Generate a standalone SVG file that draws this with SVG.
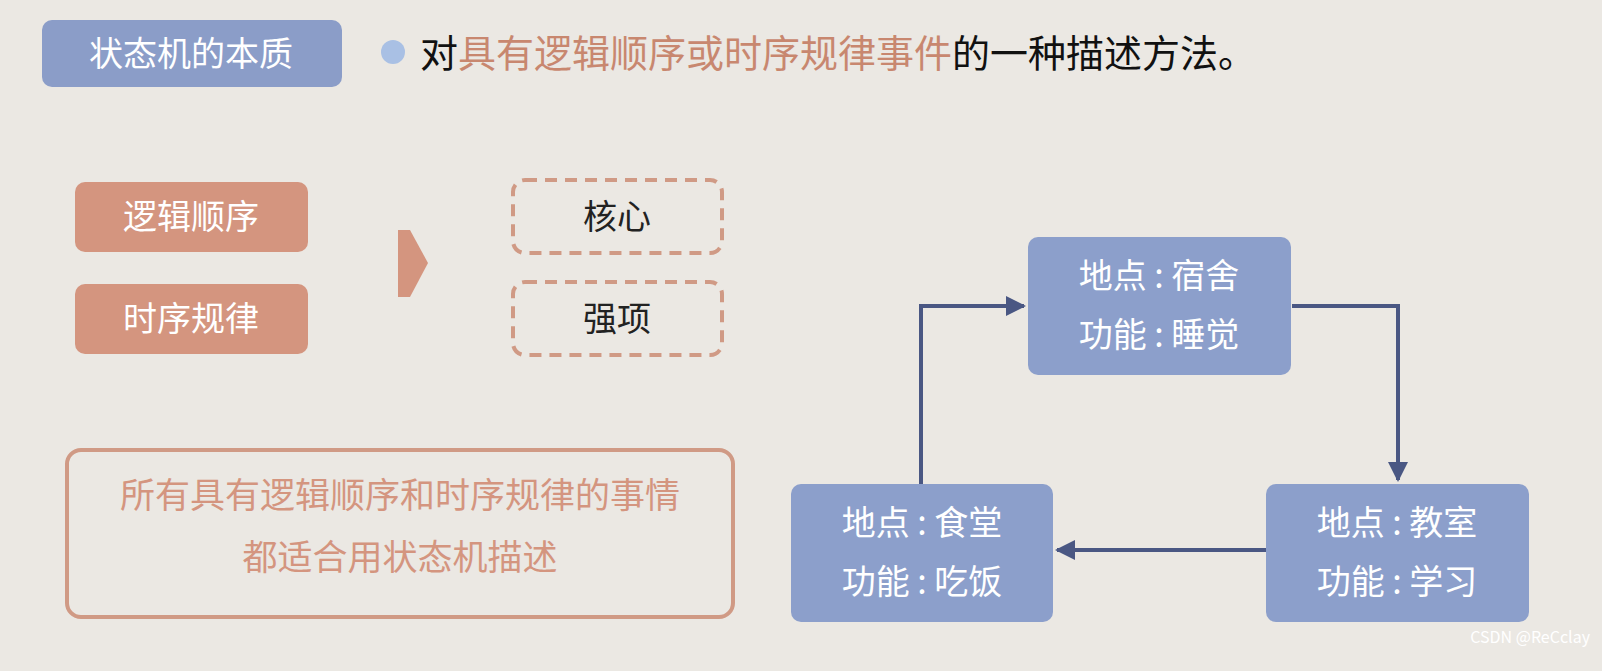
<svg xmlns="http://www.w3.org/2000/svg" width="1602" height="671" viewBox="0 0 1602 671">
<style>
text{font-family:"Noto Sans CJK SC","Noto Sans",sans-serif}
.w{fill:#fff;font-size:34px;text-anchor:middle}
.node{fill:#8c9fcb}
.tag{fill:#d4957f}
.dash{fill:none;stroke:#d09a85;stroke-width:4;stroke-dasharray:12 8}
.con{fill:none;stroke:#4a5783;stroke-width:4}
</style>
<defs><marker id="ah" viewBox="0 0 10 10" refX="9" refY="5" markerWidth="5" markerHeight="5" orient="auto"><path d="M0,0L10,5L0,10z" fill="#4a5783"/></marker></defs>
<rect width="1602" height="671" fill="#ebe8e3"/>
<g id="title"><rect x="42" y="20" width="300" height="67" rx="10" fill="#8b9dc8"/><text class="w" x="191" y="66">状态机的本质</text></g>
<g id="desc"><circle cx="393" cy="52" r="12" fill="#a9c0e4"/><text x="420" y="67" font-size="38" fill="#111">对<tspan fill="#c8876f">具有逻辑顺序或时序规律事件</tspan>的一种描述方法。</text></g>
<g id="logic"><rect class="tag" x="75" y="182" width="233" height="70" rx="10"/><text class="w" x="191" y="229">逻辑顺序</text></g>
<g id="timing"><rect class="tag" x="75" y="284" width="233" height="70" rx="10"/><text class="w" x="191" y="331">时序规律</text></g>
<g id="chev"><polygon class="tag" points="398,230 410,230 428,263 410,297 398,297"/></g>
<g id="core"><rect class="dash" x="513" y="180" width="209" height="73" rx="12"/><text x="617" y="229" font-size="34" text-anchor="middle" fill="#222">核心</text></g>
<g id="strong"><rect class="dash" x="513" y="282" width="209" height="73" rx="12"/><text x="617" y="331" font-size="34" text-anchor="middle" fill="#222">强项</text></g>
<g id="note"><rect x="67" y="450" width="666" height="167" rx="14" fill="none" stroke="#d09a85" stroke-width="4"/><text x="400" y="508" font-size="35" text-anchor="middle" fill="#d4957f">所有具有逻辑顺序和时序规律的事情</text><text x="400" y="570" font-size="35" text-anchor="middle" fill="#d4957f">都适合用状态机描述</text></g>
<g id="dorm"><rect class="node" x="1028" y="237" width="263" height="138" rx="10"/><text class="w" x="1159" y="288">地点 : 宿舍</text><text class="w" x="1159" y="347">功能 : 睡觉</text></g>
<g id="canteen"><rect class="node" x="791" y="484" width="262" height="138" rx="10"/><text class="w" x="922" y="535">地点 : 食堂</text><text class="w" x="922" y="594">功能 : 吃饭</text></g>
<g id="class"><rect class="node" x="1266" y="484" width="263" height="138" rx="10"/><text class="w" x="1397" y="535">地点 : 教室</text><text class="w" x="1397" y="594">功能 : 学习</text></g>
<g id="connectors">
<path class="con" d="M921,484V306H1024" marker-end="url(#ah)"/>
<path class="con" d="M1292,306H1398V480" marker-end="url(#ah)"/>
<path class="con" d="M1266,550H1057" marker-end="url(#ah)"/>
</g>
<text x="1590" y="643" font-size="16" text-anchor="end" fill="#fff" font-family="Liberation Sans,sans-serif">CSDN @ReCclay</text>
</svg>
